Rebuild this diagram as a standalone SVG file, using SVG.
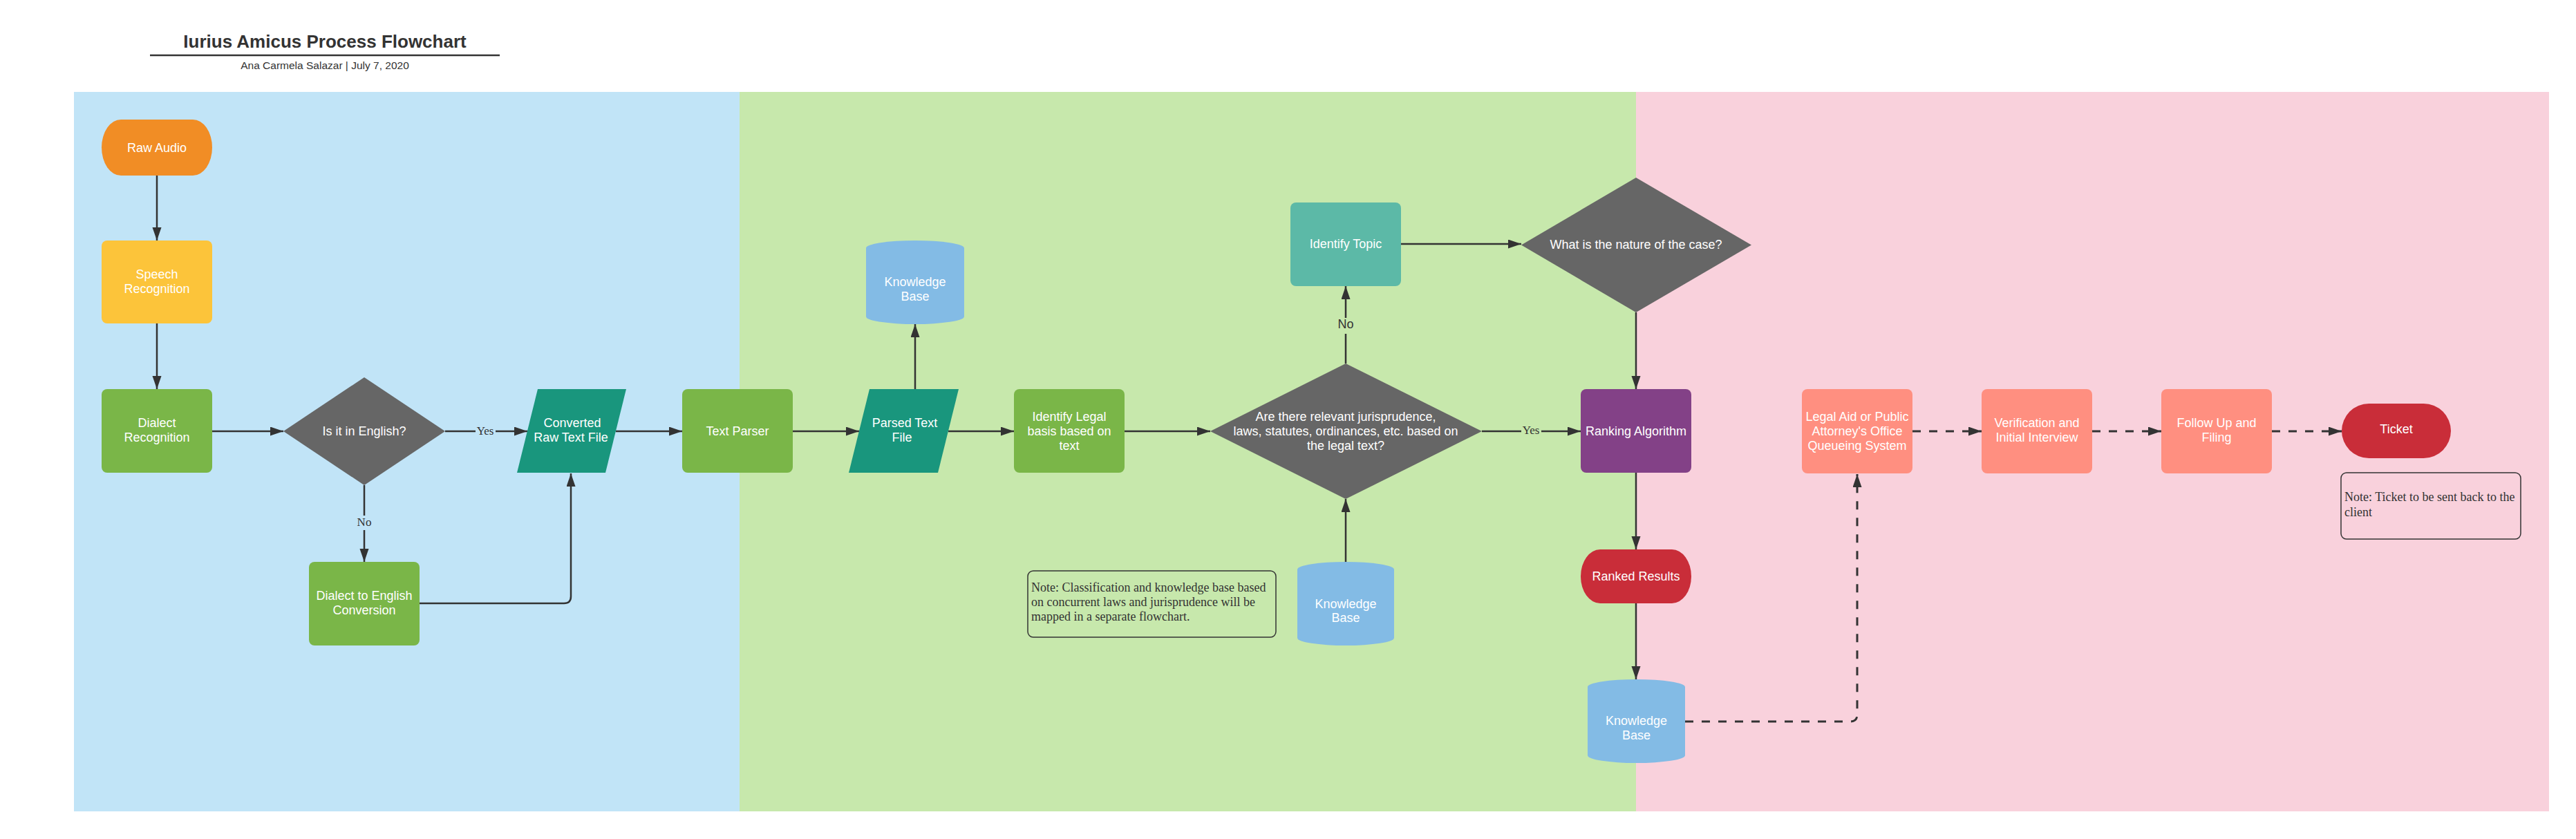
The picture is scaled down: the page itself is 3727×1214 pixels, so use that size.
<svg xmlns="http://www.w3.org/2000/svg" width="3727" height="1214" viewBox="0 0 3727 1214">
<style>
.t{font-family:"Liberation Sans",Arial,sans-serif;font-size:18px;fill:#ffffff;text-anchor:middle}
.lbl{font-family:"Liberation Serif","Times New Roman",serif;font-size:17px;fill:#333333;text-anchor:middle}
.lbls{font-family:"Liberation Sans",Arial,sans-serif;font-size:18px;fill:#333333;text-anchor:middle}
.note{font-family:"Liberation Serif","Times New Roman",serif;font-size:18px;fill:#333333}
.notebox{fill:none;stroke:#333333;stroke-width:1.5}
.c{fill:none;stroke:#333333;stroke-width:2.5;marker-end:url(#ah)}
.d{fill:none;stroke:#333333;stroke-width:3;stroke-dasharray:12 12;marker-end:url(#ah)}
.green{fill:#7AB648}
.teal{fill:#19967D}
.kb{fill:#83BBE5}
.gray{fill:#666666}
.salmon{fill:#FF8F80}
.red{fill:#C92D39}
</style>
<defs>
<marker id="ah" markerUnits="userSpaceOnUse" markerWidth="20" markerHeight="14" refX="19" refY="6.5" orient="auto">
<path d="M0,0 L19,6.5 L0,13 Z" fill="#333333"/>
</marker>
</defs>
<rect width="3727" height="1214" fill="#ffffff"/>
<g id="title">
<text x="470" y="69" style="font-family:'Liberation Sans',Arial,sans-serif;font-size:26px;font-weight:bold;fill:#333333;text-anchor:middle">Iurius Amicus Process Flowchart</text>
<line x1="217" y1="80" x2="723" y2="80" stroke="#333333" stroke-width="2.5"/>
<text x="470" y="100" style="font-family:'Liberation Sans',Arial,sans-serif;font-size:15.5px;fill:#333333;text-anchor:middle">Ana Carmela Salazar | July 7, 2020</text>
</g>
<g id="lanes">
<rect x="107" y="133" width="963" height="1041" fill="#C1E4F7"/>
<rect x="1070" y="133" width="1297" height="1041" fill="#C7E8AC"/>
<rect x="2367" y="133" width="1321" height="1041" fill="#F9D1DC"/>
</g>
<g id="connectors">
<path class="c" d="M227 254 V348"/>
<path class="c" d="M227 468 V563"/>
<path class="c" d="M307 624 H410"/>
<path class="c" d="M644 624 H763"/>
<path class="c" d="M527 702 V813"/>
<path class="c" d="M607 873 H816 Q826 873 826 863 V685"/>
<path class="c" d="M891 624 H987"/>
<path class="c" d="M1147 624 H1243"/>
<path class="c" d="M1324 563 V469"/>
<path class="c" d="M1372 624 H1467"/>
<path class="c" d="M1627 624 H1751"/>
<path class="c" d="M1947 526 V414"/>
<path class="c" d="M2027 353 H2201"/>
<path class="c" d="M2367 452 V563"/>
<path class="c" d="M2144 624 H2287"/>
<path class="c" d="M2367 684 V795"/>
<path class="c" d="M2367 873 V983"/>
<path class="c" d="M1947 813 V722"/>
<path class="d" d="M2438 1044 H2677 Q2687 1044 2687 1034 V686"/>
<path class="d" d="M2767 624 H2867"/>
<path class="d" d="M3027 624 H3127"/>
<path class="d" d="M3287 624 H3388"/>
<g id="labels">
<rect x="688" y="610" width="29" height="24" fill="#C1E4F7"/>
<text class="lbl" x="702" y="629">Yes</text>
<rect x="514" y="746" width="26" height="21" fill="#C1E4F7"/>
<text class="lbl" x="527" y="761">No</text>
<rect x="1933" y="460" width="28" height="23" fill="#C7E8AC"/>
<text class="lbls" x="1947" y="475">No</text>
<rect x="2201" y="610" width="29" height="24" fill="#C7E8AC"/>
<text class="lbl" x="2215" y="628">Yes</text>
</g>
</g>
<g id="raw-audio">
<rect x="147" y="173" width="160" height="81" rx="28" ry="40.5" fill="#F18D25"/>
<text class="t" x="227" y="219.5">Raw Audio</text>
</g>
<g id="speech-recognition">
<rect x="147" y="348" width="160" height="120" rx="8" fill="#FCC43A"/>
<text class="t" x="227" y="402.5">Speech</text>
<text class="t" x="227" y="423.5">Recognition</text>
</g>
<g id="dialect-recognition">
<rect class="green" x="147" y="563" width="160" height="121" rx="8"/>
<text class="t" x="227" y="618">Dialect</text>
<text class="t" x="227" y="639">Recognition</text>
</g>
<g id="is-english">
<polygon class="gray" points="527,546 644,624 527,702 410,624"/>
<text class="t" x="527" y="630">Is it in English?</text>
</g>
<g id="converted-raw-text">
<polygon class="teal" points="778,563 906,563 876,684 748,684"/>
<text class="t" x="828" y="618">Converted</text>
<text class="t" x="826" y="639">Raw Text File</text>
</g>
<g id="dialect-to-english">
<rect class="green" x="447" y="813" width="160" height="121" rx="8"/>
<text class="t" x="527" y="868">Dialect to English</text>
<text class="t" x="527" y="889">Conversion</text>
</g>
<g id="text-parser">
<rect class="green" x="987" y="563" width="160" height="121" rx="8"/>
<text class="t" x="1067" y="630">Text Parser</text>
</g>
<g id="parsed-text-file">
<polygon class="teal" points="1258,563 1387,563 1357,684 1228,684"/>
<text class="t" x="1309" y="618">Parsed Text</text>
<text class="t" x="1305" y="639">File</text>
</g>
<g id="knowledge-base-1">
<path class="kb" d="M1253 359 A71 11 0 0 1 1395 359 V458 A71 11 0 0 1 1253 458 Z"/>
<text class="t" x="1324" y="414">Knowledge</text>
<text class="t" x="1324" y="435">Base</text>
</g>
<g id="identify-legal-basis">
<rect class="green" x="1467" y="563" width="160" height="121" rx="8"/>
<text class="t" x="1547" y="609">Identify Legal</text>
<text class="t" x="1547" y="630">basis based on</text>
<text class="t" x="1547" y="651">text</text>
</g>
<g id="relevant-laws">
<polygon class="gray" points="1947,526 2144,624 1947,722 1751,624"/>
<text class="t" x="1947" y="609">Are there relevant jurisprudence,</text>
<text class="t" x="1947" y="630">laws, statutes, ordinances, etc. based on</text>
<text class="t" x="1947" y="651">the legal text?</text>
</g>
<g id="knowledge-base-2">
<path class="kb" d="M1877 824 A70 11 0 0 1 2017 824 V923 A70 11 0 0 1 1877 923 Z"/>
<text class="t" x="1947" y="880">Knowledge</text>
<text class="t" x="1947" y="900">Base</text>
</g>
<g id="note-classification">
<rect class="notebox" x="1487" y="826" width="359" height="96" rx="8"/>
<text class="note" x="1492" y="856">Note: Classification and knowledge base based</text>
<text class="note" x="1492" y="877">on concurrent laws and jurisprudence will be</text>
<text class="note" x="1492" y="898">mapped in a separate flowchart.</text>
</g>
<g id="identify-topic">
<rect x="1867" y="293" width="160" height="121" rx="8" fill="#5CB9A7"/>
<text class="t" x="1947" y="359">Identify Topic</text>
</g>
<g id="nature-of-case">
<polygon class="gray" points="2367,257 2534,354.5 2367,452 2201,354.5"/>
<text class="t" x="2367" y="360">What is the nature of the case?</text>
</g>
<g id="ranking-algorithm">
<rect x="2287" y="563" width="160" height="121" rx="8" fill="#834187"/>
<text class="t" x="2367" y="630">Ranking Algorithm</text>
</g>
<g id="ranked-results">
<rect class="red" x="2287" y="795" width="160" height="78" rx="28" ry="39"/>
<text class="t" x="2367" y="840">Ranked Results</text>
</g>
<g id="knowledge-base-3">
<path class="kb" d="M2297 994 A70.5 11 0 0 1 2438 994 V1093 A70.5 11 0 0 1 2297 1093 Z"/>
<text class="t" x="2367.5" y="1049">Knowledge</text>
<text class="t" x="2367.5" y="1070">Base</text>
</g>
<g id="legal-aid">
<rect class="salmon" x="2607" y="563" width="160" height="122" rx="8"/>
<text class="t" x="2687" y="609">Legal Aid or Public</text>
<text class="t" x="2687" y="630">Attorney's Office</text>
<text class="t" x="2687" y="651">Queueing System</text>
</g>
<g id="verification">
<rect class="salmon" x="2867" y="563" width="160" height="122" rx="8"/>
<text class="t" x="2947" y="618">Verification and</text>
<text class="t" x="2947" y="639">Initial Interview</text>
</g>
<g id="follow-up">
<rect class="salmon" x="3127" y="563" width="160" height="122" rx="8"/>
<text class="t" x="3207" y="618">Follow Up and</text>
<text class="t" x="3207" y="639">Filing</text>
</g>
<g id="ticket">
<rect class="red" x="3388" y="584" width="158" height="79" rx="39.5"/>
<text class="t" x="3467" y="627">Ticket</text>
</g>
<g id="note-ticket">
<rect class="notebox" x="3387" y="684" width="260" height="96" rx="8"/>
<text class="note" x="3392" y="725">Note: Ticket to be sent back to the</text>
<text class="note" x="3392" y="747">client</text>
</g>
</svg>
